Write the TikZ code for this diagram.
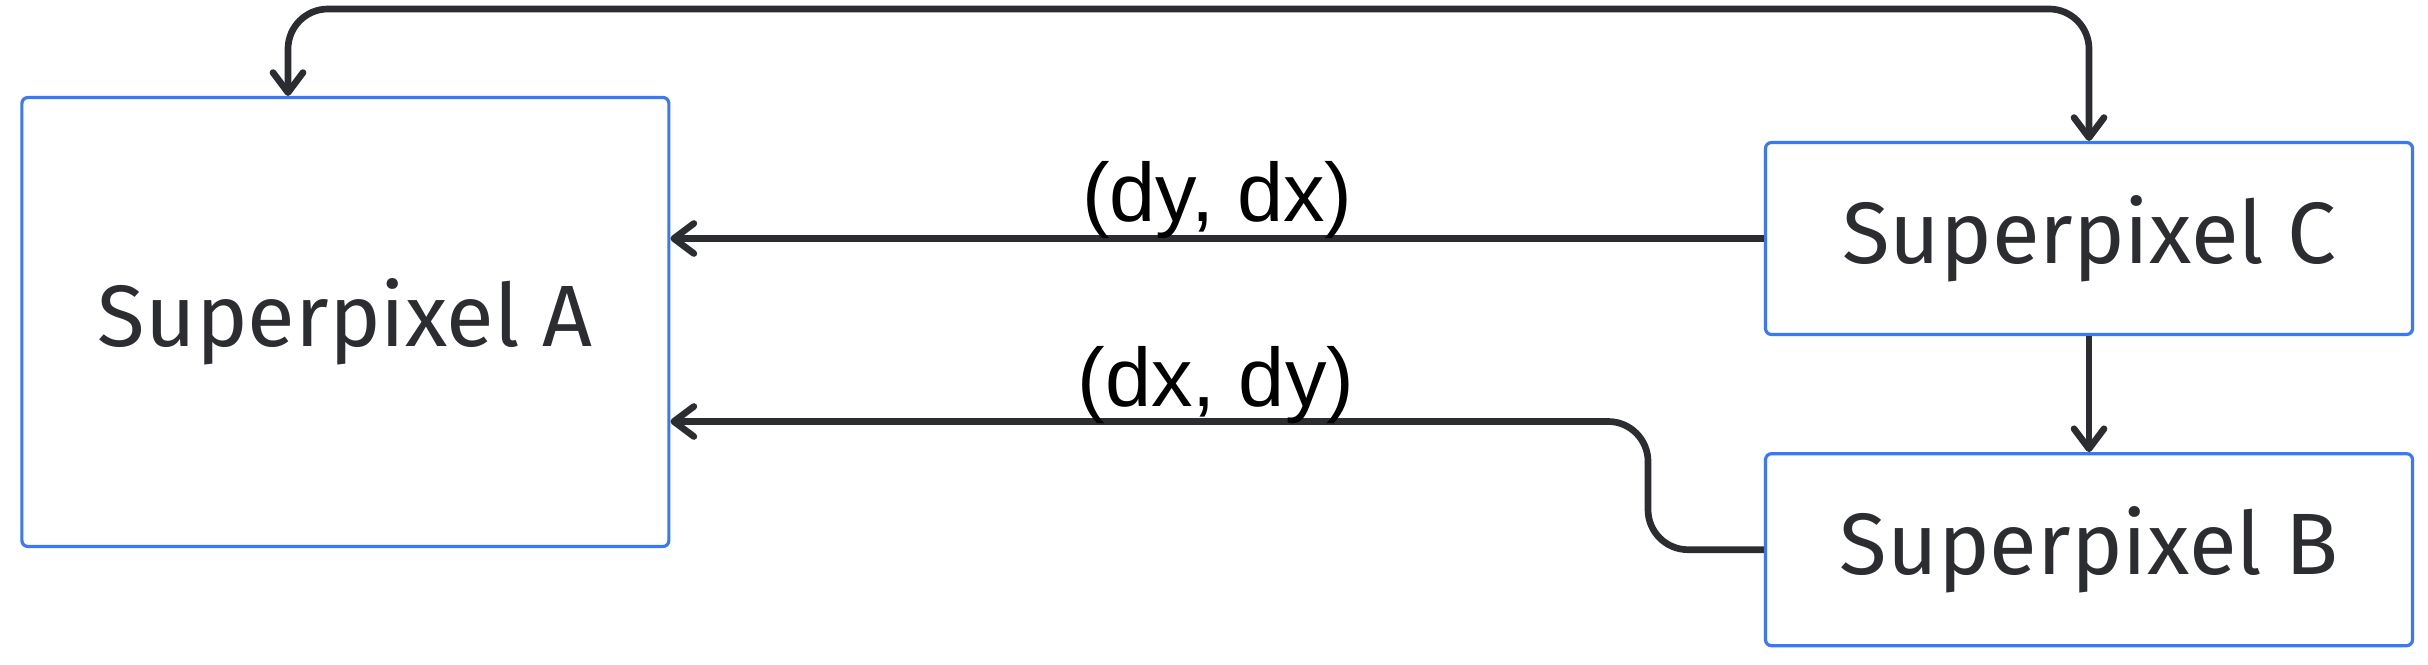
\documentclass[tikz,border=0pt]{standalone}
\usepackage{fontspec}
\usetikzlibrary{arrows.meta}
\newfontfamily\boxfont{Fira Sans}
\newfontfamily\lblfont{Liberation Sans}
\definecolor{bordo}{RGB}{59,120,245}
\definecolor{scuro}{RGB}{43,45,49}
\tikzset{
  blocco/.style={draw=bordo, line width=0.9pt, rounded corners=1.7pt,
    minimum width=6.47cm, text=scuro, font=\boxfont\fontsize{24.8}{30}\selectfont},
  conn/.style={draw=scuro, line width=1.9pt, rounded corners=4mm,
    -{Straight Barb[length=2mm,width=3mm,round]}},
  conndoppia/.style={conn, {Straight Barb[length=2mm,width=3mm,round]}-{Straight Barb[length=2mm,width=3mm,round]}},
  etich/.style={font=\lblfont\fontsize{23.6}{28}\selectfont, inner sep=0pt, anchor=south}
}
\begin{document}
\begin{tikzpicture}
        \useasboundingbox[fill=white](0,0) rectangle (24.28,6.64);
        %disegno blocchi
        \node[blocco, minimum height=4.49cm] (A) at (3.454,3.42) {Superpixel A};
        \node[blocco, minimum height=1.92cm] (C) at (20.89,4.255) {Superpixel C};
        \node[blocco, minimum height=1.92cm] (B) at (20.89,1.143) {Superpixel B};
        %punti di piega
        \coordinate (alto) at (2.88,6.55);
        \coordinate (piega) at (16.48,2.425);
        %frecce
        \draw[conndoppia] (A.north -| alto) |- (C.north |- alto) -- (C.north);
        \draw[conn] (C.south) -- (B.north);
        \draw[conn] (C.west) -- node[etich, midway, yshift=-1pt] (dydx) {(dy, dx)} (A.east |- C.west);
        \draw[conn] (B.west) -| (piega) -- (A.east |- piega);
        %label
        \node[etich] (dxdy) at (12.16,2.40) {(dx, dy)};
\end{tikzpicture}
\end{document}
